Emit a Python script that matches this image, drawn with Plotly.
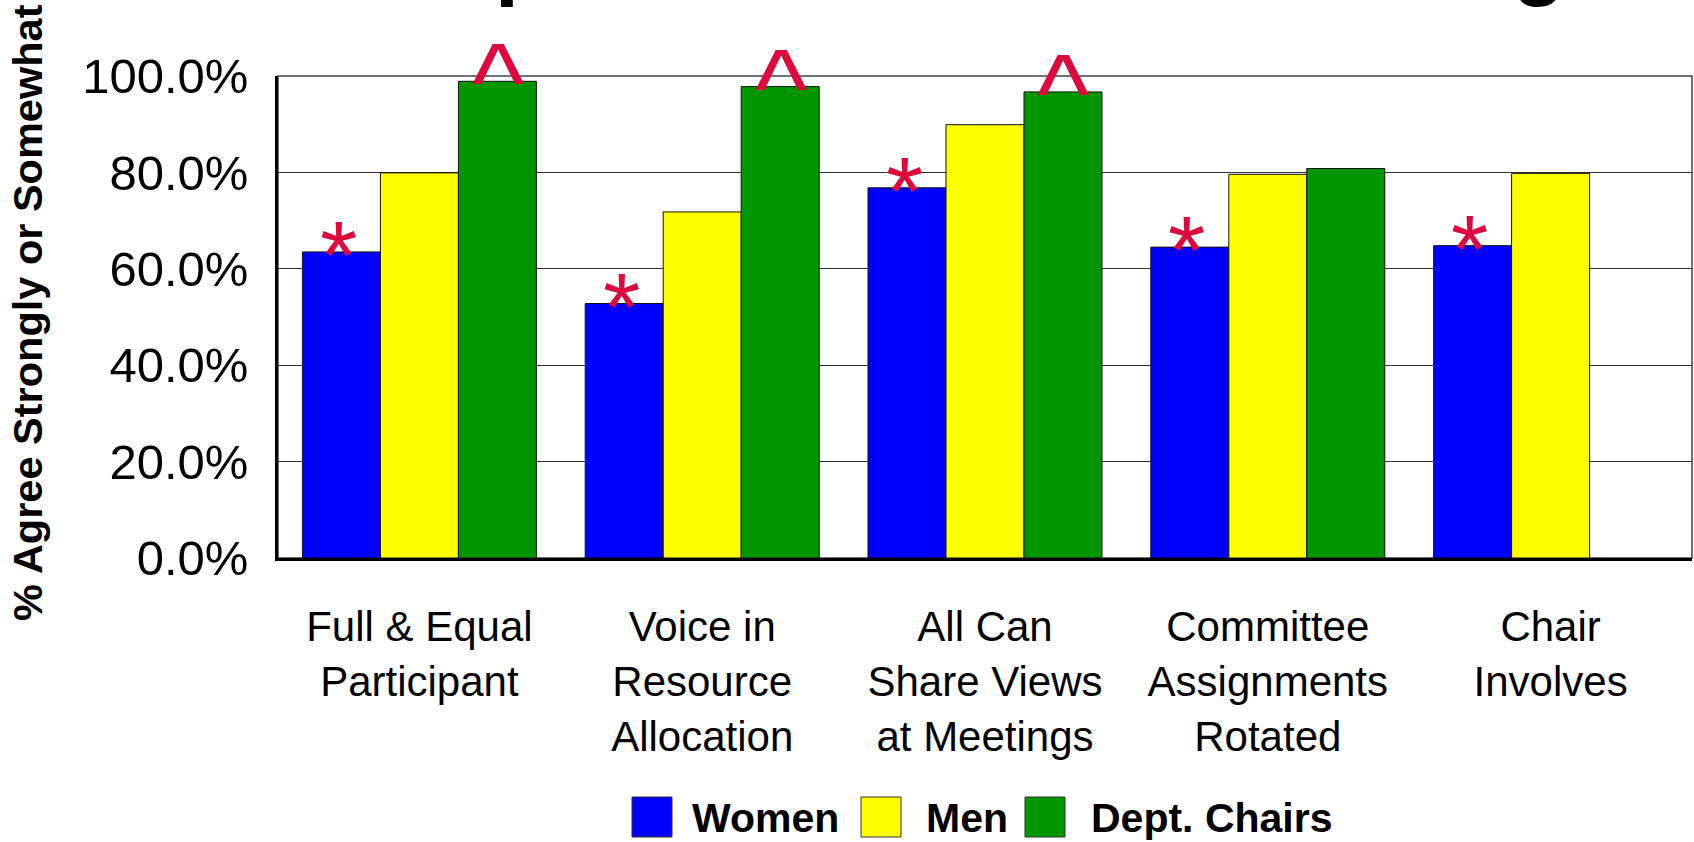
import plotly.graph_objects as go

# ---- data -------------------------------------------------------------
categories = [
    "Full & Equal<br>Participant",
    "Voice in<br>Resource<br>Allocation",
    "All Can<br>Share Views<br>at Meetings",
    "Committee<br>Assignments<br>Rotated",
    "Chair<br>Involves",
]
series_names = ["Women", "Men", "Dept. Chairs"]
women = [63.5, 52.8, 76.8, 64.5, 64.8]
men = [79.9, 71.8, 89.9, 79.6, 79.8]
chairs = [98.9, 97.8, 96.7, 80.8, None]

# significance marks drawn above the bars
women_marks = ["*", "*", "*", "*", "*"]
chairs_marks = ["^", "^", "^", "", ""]

y_tickvals = [0, 20, 40, 60, 80, 100]
y_ticktext = ["0.0%", "20.0%", "40.0%", "60.0%", "80.0%", "100.0%"]

title_text = "Department Decision Making"
y_title = "% Agree Strongly or Somewhat"

# ---- style ------------------------------------------------------------
colors = ["#0000FF", "#FFFF00", "#009600"]
mark_color = "#DC0A3C"
FONT = "Liberation Sans, Arial, sans-serif"

W, H = 1694, 842
L, R, T, B = 278, 2, 76, 284
PW, PH = W - L - R, H - T - B
BARGAP = 0.1726


def px_x(px):
    return (px - L) / PW


def px_y(py):
    return (T + PH - py) / PH


fig = go.Figure()
for name, vals, col in zip(series_names, [women, men, chairs], colors):
    fig.add_trace(go.Bar(
        x=categories, y=vals, name=name,
        marker=dict(color=col, line=dict(color="#111111", width=1)),
        showlegend=False,
    ))

# bar width in pixels, used to place marks over the outer bars
bar_px = PW / len(categories) * (1 - BARGAP) / len(series_names)

annotations = []
for cat, v, m in zip(categories, women, women_marks):
    if m:
        annotations.append(dict(
            x=cat, y=v, xref="x", yref="y", text=m, showarrow=False,
            xanchor="center", yanchor="bottom", xshift=-bar_px - 3, yshift=-58,
            font=dict(family=FONT, size=96, color=mark_color),
        ))
for cat, v, m in zip(categories, chairs, chairs_marks):
    if m and v is not None:
        annotations.append(dict(
            x=cat, y=v, xref="x", yref="y", text=m, showarrow=False,
            xanchor="center", yanchor="bottom", xshift=bar_px + 1, yshift=-66,
            font=dict(family=FONT, size=112, color=mark_color),
        ))

# title (runs off the top of the page)
annotations.append(dict(
    x=px_x(975), y=1, xref="paper", yref="paper", text=title_text,
    showarrow=False, xanchor="center", yanchor="bottom", yshift=67,
    font=dict(family=FONT, size=86, color="black", weight="bold"),
))

# y-axis title
annotations.append(dict(
    x=px_x(27), y=px_y(313), xref="paper", yref="paper", text=y_title,
    showarrow=False, xanchor="center", yanchor="middle", textangle=-90,
    font=dict(family=FONT, size=41.5, color="black", weight="bold"),
))

# legend: swatches and labels
legend_swatch_x = [632, 861, 1025]
legend_text_x = [690, 924, 1089]
shapes = [dict(
    type="rect", xref="paper", yref="paper", x0=0, x1=1, y0=0, y1=1,
    line=dict(color="#444444", width=1.5), layer="below",
)]
for name, col, sx, tx in zip(series_names, colors, legend_swatch_x, legend_text_x):
    shapes.append(dict(
        type="rect", xref="paper", yref="paper",
        x0=px_x(sx), x1=px_x(sx + 40), y0=px_y(837), y1=px_y(797),
        fillcolor=col, line=dict(color="#333333", width=1),
    ))
    annotations.append(dict(
        x=px_x(tx), y=px_y(818), xref="paper", yref="paper", text=name,
        showarrow=False, xanchor="left", yanchor="middle",
        font=dict(family=FONT, size=41, color="black", weight="bold"),
    ))

fig.update_layout(
    width=W, height=H,
    margin=dict(l=L, r=R, t=T, b=B, pad=0),
    paper_bgcolor="white", plot_bgcolor="white",
    barmode="group", bargap=BARGAP, bargroupgap=0,
    showlegend=False,
    font=dict(family=FONT, color="black"),
    annotations=annotations,
    shapes=shapes,
)
fig.update_xaxes(
    type="category", showgrid=False, showline=True, linecolor="black",
    linewidth=3, ticks="", tickfont=dict(family=FONT, size=42, color="black"),
    ticklabelstandoff=30, zeroline=False,
)
fig.update_yaxes(
    range=[0, 100], tickvals=y_tickvals, ticktext=y_ticktext,
    showgrid=True, gridcolor="#333333", gridwidth=1,
    showline=True, linecolor="black", linewidth=2.5, ticks="",
    tickfont=dict(family=FONT, size=49, color="black"),
    ticklabelstandoff=17, zeroline=False,
)

fig.write_html("out.html")
